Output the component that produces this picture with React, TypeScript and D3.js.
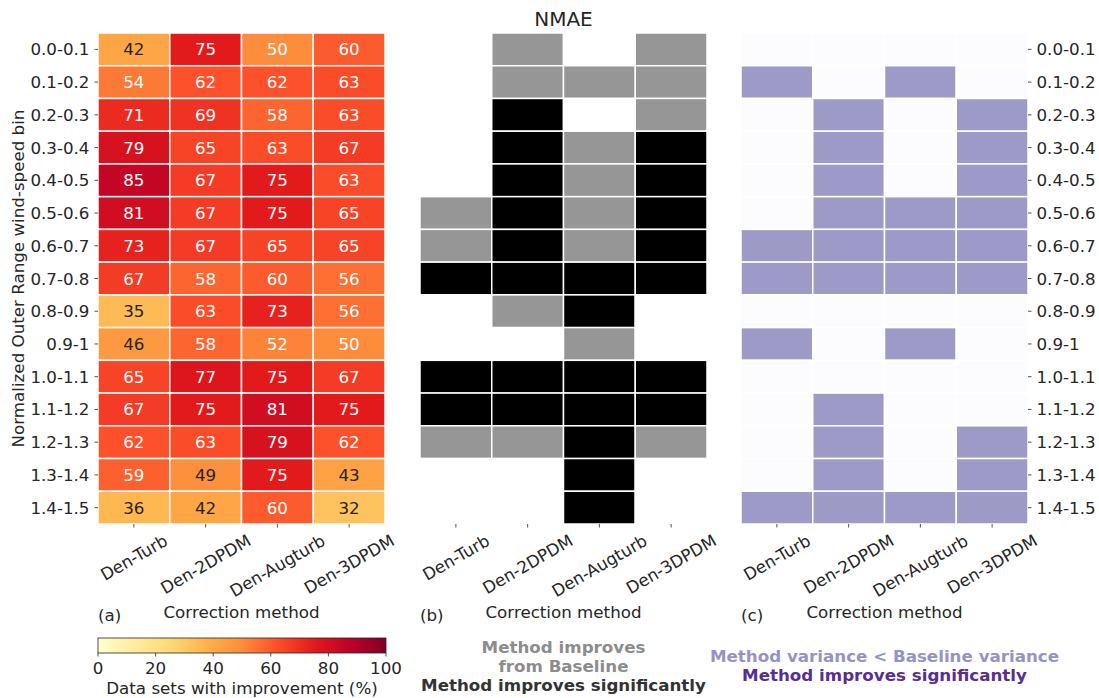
import React, { useRef, useEffect } from 'react';
import * as d3 from 'd3';

const binLabels = [
  '0.0-0.1', '0.1-0.2', '0.2-0.3', '0.3-0.4', '0.4-0.5',
  '0.5-0.6', '0.6-0.7', '0.7-0.8', '0.8-0.9', '0.9-1',
  '1.0-1.1', '1.1-1.2', '1.2-1.3', '1.3-1.4', '1.4-1.5',
];
const methods = ['Den-Turb', 'Den-2DPDM', 'Den-Augturb', 'Den-3DPDM'];

// (a) % of data sets with improvement
const improvementPct = [
  [42, 75, 50, 60],
  [54, 62, 62, 63],
  [71, 69, 58, 63],
  [79, 65, 63, 67],
  [85, 67, 75, 63],
  [81, 67, 75, 65],
  [73, 67, 65, 65],
  [67, 58, 60, 56],
  [35, 63, 73, 56],
  [46, 58, 52, 50],
  [65, 77, 75, 67],
  [67, 75, 81, 75],
  [62, 63, 79, 62],
  [59, 49, 75, 43],
  [36, 42, 60, 32],
];

// (b) 0 = no improvement, 1 = improves from baseline, 2 = improves significantly
const improvementLevel = [
  [0, 1, 0, 1],
  [0, 1, 1, 1],
  [0, 2, 0, 1],
  [0, 2, 1, 2],
  [0, 2, 1, 2],
  [1, 2, 1, 2],
  [1, 2, 1, 2],
  [2, 2, 2, 2],
  [0, 1, 2, 0],
  [0, 0, 1, 0],
  [2, 2, 2, 2],
  [2, 2, 2, 2],
  [1, 1, 2, 1],
  [0, 0, 2, 0],
  [0, 0, 2, 0],
];

// (c) 0 = none, 1 = variance below baseline, 2 = significant
const varianceLevel = [
  [0, 0, 0, 0],
  [1, 0, 1, 0],
  [0, 1, 0, 1],
  [0, 1, 0, 1],
  [0, 1, 0, 1],
  [0, 1, 1, 1],
  [1, 1, 1, 1],
  [1, 1, 1, 1],
  [0, 0, 0, 0],
  [1, 0, 1, 0],
  [0, 0, 0, 0],
  [0, 1, 0, 0],
  [0, 1, 0, 1],
  [0, 1, 0, 1],
  [1, 1, 1, 1],
];

const colorbarTicks = [0, 20, 40, 60, 80, 100];
const ylOrRd = ['#ffffcc', '#ffeda0', '#fed976', '#feb24c', '#fd8d3c', '#fc4e2a', '#e31a1c', '#bd0026', '#800026'];

const W = 1099;
const H = 698;
const FONT = 'DejaVu Sans, sans-serif';
const FS = 16.7;
const TXT = '#262626';

const luminance = (c: string) => {
  const rgb = d3.rgb(c);
  const lin = (v: number) => {
    const s = v / 255;
    return s <= 0.03928 ? s / 12.92 : Math.pow((s + 0.055) / 1.055, 2.4);
  };
  return 0.2126 * lin(rgb.r) + 0.7152 * lin(rgb.g) + 0.0722 * lin(rgb.b);
};

const App: React.FC = () => {
  const svgRef = useRef<SVGSVGElement>(null);

  useEffect(() => {
    if (!svgRef.current) return;
    const svg = d3.select(svgRef.current);
    svg.selectAll('*').remove();

    const top = 33;
    const bottom = 524;
    const panelW = 287;
    const panelX = [98, 420, 741];

    const y = d3.scaleBand<string>().domain(binLabels).range([top, bottom]);

    const pctColor = d3
      .scaleLinear<string>()
      .domain(ylOrRd.map((_, i) => (i * 100) / (ylOrRd.length - 1)))
      .range(ylOrRd)
      .interpolate(d3.interpolateRgb);

    const levelColorB = ['#ffffff', '#969696', '#000000'];
    const levelColorC = ['#fcfbfd', '#9e9ac8', '#54278f'];

    const drawPanel = (
      x0: number,
      values: number[][],
      fill: (v: number) => string,
      annotate: boolean,
      letter: string
    ) => {
      const x = d3.scaleBand<string>().domain(methods).range([x0, x0 + panelW]);
      const g = svg.append('g');
      values.forEach((row, ri) => {
        row.forEach((v, ci) => {
          const cx = x(methods[ci])!;
          const cy = y(binLabels[ri])!;
          g.append('rect')
            .attr('x', cx)
            .attr('y', cy)
            .attr('width', x.bandwidth())
            .attr('height', y.bandwidth())
            .attr('fill', fill(v))
            .attr('stroke', '#ffffff')
            .attr('stroke-width', 1.5);
          if (annotate) {
            const c = fill(v);
            g.append('text')
              .attr('x', cx + x.bandwidth() / 2)
              .attr('y', cy + y.bandwidth() / 2)
              .attr('text-anchor', 'middle')
              .attr('dominant-baseline', 'central')
              .attr('font-size', FS)
              .attr('font-family', FONT)
              .attr('fill', luminance(c) > 0.408 ? TXT : '#ffffff')
              .text(v);
          }
        });
      });

      // x ticks + rotated labels
      const labelTop = bottom + 7;
      methods.forEach((m) => {
        const tx = x(m)! + x.bandwidth() / 2;
        g.append('line')
          .attr('x1', tx).attr('x2', tx)
          .attr('y1', bottom).attr('y2', bottom + 3.5)
          .attr('stroke', TXT).attr('stroke-width', 0.8);
        const t = g.append('text')
          .attr('text-anchor', 'middle')
          .attr('dominant-baseline', 'central')
          .attr('font-size', FS)
          .attr('font-family', FONT)
          .attr('fill', TXT)
          .text(m);
        const L = (t.node() as SVGTextElement).getComputedTextLength();
        const h = FS * 1.1;
        const rad = Math.PI / 6;
        const bh = L * Math.sin(rad) + h * Math.cos(rad);
        t.attr('transform', `translate(${tx},${labelTop + bh / 2}) rotate(-30)`);
      });

      g.append('text')
        .attr('x', x0 + panelW / 2)
        .attr('y', 618)
        .attr('text-anchor', 'middle')
        .attr('font-size', FS)
        .attr('font-family', FONT)
        .attr('fill', TXT)
        .text('Correction method');

      g.append('text')
        .attr('x', x0)
        .attr('y', 621)
        .attr('font-size', FS)
        .attr('font-family', FONT)
        .attr('fill', TXT)
        .text(letter);
    };

    drawPanel(panelX[0], improvementPct, (v) => pctColor(v), true, '(a)');
    drawPanel(panelX[1], improvementLevel, (v) => levelColorB[v], false, '(b)');
    drawPanel(panelX[2], varianceLevel, (v) => levelColorC[v], false, '(c)');

    // y axis, left of (a) and right of (c)
    binLabels.forEach((b) => {
      const cy = y(b)! + y.bandwidth() / 2;
      svg.append('line')
        .attr('x1', panelX[0] - 3.5).attr('x2', panelX[0])
        .attr('y1', cy).attr('y2', cy)
        .attr('stroke', TXT).attr('stroke-width', 0.8);
      svg.append('text')
        .attr('x', panelX[0] - 8.5)
        .attr('y', cy)
        .attr('text-anchor', 'end')
        .attr('dominant-baseline', 'central')
        .attr('font-size', FS)
        .attr('font-family', FONT)
        .attr('fill', TXT)
        .text(b);
      const xr = panelX[2] + panelW;
      svg.append('line')
        .attr('x1', xr).attr('x2', xr + 3.5)
        .attr('y1', cy).attr('y2', cy)
        .attr('stroke', TXT).attr('stroke-width', 0.8);
      svg.append('text')
        .attr('x', xr + 8.5)
        .attr('y', cy)
        .attr('text-anchor', 'start')
        .attr('dominant-baseline', 'central')
        .attr('font-size', FS)
        .attr('font-family', FONT)
        .attr('fill', TXT)
        .text(b);
    });

    svg.append('text')
      .attr('transform', `translate(18,${(top + bottom) / 2}) rotate(-90)`)
      .attr('text-anchor', 'middle')
      .attr('dominant-baseline', 'central')
      .attr('font-size', FS)
      .attr('font-family', FONT)
      .attr('fill', TXT)
      .text('Normalized Outer Range wind-speed bin');

    svg.append('text')
      .attr('x', panelX[1] + panelW / 2)
      .attr('y', 26)
      .attr('text-anchor', 'middle')
      .attr('font-size', 20)
      .attr('font-family', FONT)
      .attr('fill', TXT)
      .text('NMAE');

    // colorbar
    const cbX = d3.scaleLinear().domain([0, 100]).range([panelX[0], panelX[0] + 288]);
    const cbY = 638;
    const cbH = 15;
    const grad = svg.append('defs').append('linearGradient').attr('id', 'cbgrad');
    ylOrRd.forEach((c, i) => {
      grad.append('stop')
        .attr('offset', `${(i / (ylOrRd.length - 1)) * 100}%`)
        .attr('stop-color', c);
    });
    svg.append('rect')
      .attr('x', cbX(0)).attr('y', cbY)
      .attr('width', cbX(100) - cbX(0)).attr('height', cbH)
      .attr('fill', 'url(#cbgrad)')
      .attr('stroke', TXT).attr('stroke-width', 0.8);
    colorbarTicks.forEach((t) => {
      svg.append('line')
        .attr('x1', cbX(t)).attr('x2', cbX(t))
        .attr('y1', cbY + cbH).attr('y2', cbY + cbH + 3.5)
        .attr('stroke', TXT).attr('stroke-width', 0.8);
      svg.append('text')
        .attr('x', cbX(t)).attr('y', 674)
        .attr('text-anchor', 'middle')
        .attr('font-size', FS)
        .attr('font-family', FONT)
        .attr('fill', TXT)
        .text(t);
    });
    svg.append('text')
      .attr('x', (cbX(0) + cbX(100)) / 2).attr('y', 694)
      .attr('text-anchor', 'middle')
      .attr('font-size', FS)
      .attr('font-family', FONT)
      .attr('fill', TXT)
      .text('Data sets with improvement (%)');

    // legends for (b) and (c)
    const legend = (cx: number, yy: number, color: string, text: string) => {
      svg.append('text')
        .attr('x', cx).attr('y', yy)
        .attr('text-anchor', 'middle')
        .attr('font-size', FS)
        .attr('font-weight', 'bold')
        .attr('font-family', FONT)
        .attr('fill', color)
        .text(text);
    };
    const bc = panelX[1] + panelW / 2;
    const cc = panelX[2] + panelW / 2;
    legend(bc, 653, '#8c8c8c', 'Method improves');
    legend(bc, 672, '#8c8c8c', 'from Baseline');
    legend(bc, 691, '#333333', 'Method improves significantly');
    legend(cc, 662, '#9692c6', 'Method variance < Baseline variance');
    legend(cc, 681, '#5a2d91', 'Method improves significantly');
  }, []);

  return (
    <svg
      ref={svgRef}
      width={W}
      height={H}
      style={{ position: 'absolute', left: 0, top: 0, background: '#ffffff' }}
    />
  );
};

export default App;
